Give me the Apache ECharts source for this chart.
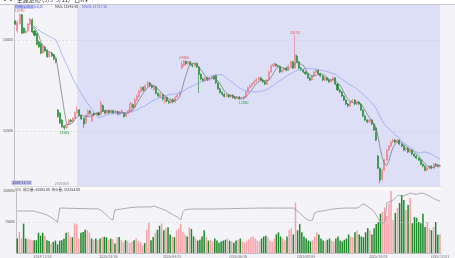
<!DOCTYPE html>
<html><head><meta charset="utf-8">
<script src="https://cdn.jsdelivr.net/npm/echarts@6/dist/echarts.min.js"></script>
<style>html,body{margin:0;padding:0;background:#f4f4f8;}#c{width:455px;height:258px;}</style>
</head><body><div id="c"></div>
<script>
const opens = [15520,15250,15450,15700,15330,15200,15250,15430,15560,15250,15180,14950,14900,14650,14800,14720,14540,14640,14600,14480,
13080,12990,12800,12640,12590,12690,12800,12760,12850,13000,13080,12930,12850,12720,12930,13050,12780,12980,12950,13000,
12960,13200,13060,12990,13050,13000,13060,13000,13030,12960,13000,13000,12900,12990,13020,13230,13150,13350,13450,13580,
13700,13620,13740,13820,13760,13640,13720,13540,13440,13500,13300,13420,13320,13280,13360,13300,13430,13520,14230,14300,
14410,14350,14400,14330,14290,14360,14260,14060,13930,13880,13960,13900,13970,14010,14030,13820,13660,13560,13510,13450,
13490,13440,13480,13420,13390,13430,13380,13400,13440,13570,13690,13740,13800,13860,13910,13960,13900,13850,13790,13900,
14120,14290,14340,14290,14280,14120,14180,14230,14170,14290,14400,14230,14560,14400,14230,14180,14120,14070,13960,13900,
14010,14120,14170,14070,14010,13900,13960,13900,13850,13900,13960,13790,13630,13570,13460,13350,13240,13190,13300,13350,
13240,13300,13240,13080,12910,12800,12750,12800,12690,12580,11810,11480,11180,11430,11700,11975,12085,12195,12250,12195,
12250,12140,12085,11975,12030,11920,11975,11865,11810,11755,11700,11590,11535,11425,11480,11535,11480,11590,11562,11535];
const closes = [15440,15495,15687,15190,15200,15250,15440,15580,15220,15130,14880,14810,14640,14820,14700,14540,14650,14560,14480,14400,
12900,12720,12620,12580,12680,12800,12760,12850,13000,13080,12930,12830,12690,12940,13060,12990,12970,12940,12990,12940,
13270,13050,12990,13050,13000,13060,12990,13040,12960,13020,13060,12900,12990,13060,13250,13150,13360,13460,13600,13700,
13620,13740,13830,13760,13700,13720,13540,13460,13520,13380,13420,13330,13280,13360,13300,13420,13490,13560,14340,14420,
14350,14400,14330,14290,14360,14260,14060,13930,13880,13960,13900,13970,14010,13930,13820,13660,13560,13510,13450,13490,
13440,13480,13420,13390,13430,13380,13400,13440,13570,13690,13740,13800,13860,13910,13960,13900,13850,13790,13900,14120,
14290,14340,14290,14280,14120,14180,14230,14170,14290,14400,14230,14590,14400,14230,14180,14120,14070,13960,13900,14010,
14120,14175,14070,14010,13900,13960,13900,13850,13900,13960,13790,13630,13570,13460,13350,13240,13190,13300,13350,13240,
13300,13240,13080,12910,12800,12750,12800,12690,12530,12250,11480,11150,11430,11700,11975,12085,12195,12250,12195,12250,
12140,12085,11975,12030,11920,11975,11865,11810,11755,11700,11590,11535,11425,11480,11535,11480,11590,11562,11535,11560];
const lows = [15410,15200,15420,15160,15170,15170,15230,15410,15190,15100,14850,14780,14610,14620,14670,14510,14520,14530,14440,14360,
12860,12690,12580,12528,12560,12660,12720,12740,12830,12960,12900,12800,12580,12700,12900,12950,12750,12900,12920,12910,
12930,13020,12960,12960,12970,12970,12960,12960,12930,12930,12970,12870,12880,12960,13000,13120,13120,13320,13420,13560,
13580,13600,13710,13720,13660,13600,13500,13420,13400,13330,13250,13290,13240,13250,13260,13270,13400,13480,14200,14260,
14310,14320,14300,14250,14260,14230,13540,13890,13850,13850,13870,13870,13940,13900,13790,13630,13530,13470,13420,13420,
13410,13410,13390,13370,13370,13365,13360,13350,13400,13550,13660,13710,13770,13830,13880,13870,13820,13760,13770,13880,
14100,14260,14260,14250,14090,14090,14150,14140,14150,14270,14200,14200,14370,14200,14150,14090,14040,13930,13870,13880,
13990,14090,14040,13980,13870,13870,13870,13820,13820,13870,13760,13600,13540,13430,13320,13210,13150,13160,13270,13210,
13210,13210,13050,12880,12770,12710,12720,12660,12500,12220,11450,11067,11120,11400,11680,11950,12060,12170,12160,12170,
12110,12050,11940,11940,11890,11890,11830,11780,11720,11670,11560,11500,11390,11390,11450,11450,11450,11530,11500,11500];
const highs = [15550,15550,15742,15720,15350,15280,15470,15610,15600,15280,15200,14990,14930,14850,14840,14740,14680,14670,14620,14500,
13100,13020,12830,12660,12700,12830,12840,12880,13030,13180,13100,12950,12870,12960,13090,13080,13000,13010,13020,13030,
13340,13230,13080,13080,13080,13090,13080,13070,13060,13050,13090,13020,13010,13090,13300,13260,13400,13500,13640,13730,
13730,13790,13870,13850,13790,13760,13740,13560,13560,13520,13450,13450,13350,13390,13400,13460,13520,13600,14420,14451,
14440,14430,14430,14360,14390,14380,14280,14080,13960,13990,13990,14000,14040,14040,14060,13840,13690,13600,13540,13520,
13520,13510,13510,13450,13460,13460,13430,13470,13600,13720,13780,13830,13890,13950,13990,13990,13930,13880,13930,14160,
14320,14370,14370,14320,14300,14210,14260,14260,14320,14430,14420,15137,14600,14420,14260,14200,14150,14090,13990,14040,
14150,14202,14190,14100,14040,13990,13990,13930,13930,13990,13980,13810,13660,13600,13490,13380,13270,13330,13380,13380,
13330,13330,13260,13100,12940,12830,12830,12830,12710,12600,11840,11500,11460,11730,12000,12110,12230,12290,12280,12280,
12270,12170,12110,12060,12060,12000,12000,11890,11840,11780,11730,11620,11560,11510,11560,11560,11620,11620,11590,11590];
const volumes = [35,51,35,71,35,33,33,31,31,31,49,42,49,42,31,29,23,27,30,21,30,31,35,49,51,39,38,72,69,35,49,51,56,55,49,35,32,35,31,35,38,39,38,31,35,33,23,38,39,31,27,31,29,24,27,31,35,29,27,18,24,56,74,31,39,49,56,66,71,
55,60,62,45,40,38,55,60,70,50,45,40,62,58,40,35,30,32,40,55,38,30,32,28,35,30,25,28,30,32,35,
30,28,25,30,32,35,28,25,30,33,38,40,35,30,28,35,40,42,38,30,28,35,45,50,40,35,30,40,55,60,45,122,55,70,50,40,
35,30,28,30,40,50,45,35,30,28,32,35,30,28,35,40,30,28,32,35,45,40,38,50,55,45,40,38,50,60,55,45,60,70,75,
95,100,110,90,120,150,80,97,109,121,140,128,104,116,133,72,87,85,75,72,95,63,75,60,55,63,75,44,45.804].map(v=>v*1000);
const openInterest = [271,271,271,271,271,271,271,271,271,265,262,258,255,250,245,238,230,222,210,200,
290,290,290,289,289,288,288,288,287,287,287,286,286,286,285,285,285,285,285,280,270,258,245,232,220,213,277,280,282,284,
286,288,290,292,294,295,296,297,297,297,297,297,297,297,303,300,295,290,285,280,275,265,258,250,242,235,226,213,265,280,
281,282,283,284,284,284,284,284,284,284,284,284,284,284,284,284,285,285,285,286,286,286,287,287,287,288,288,288,288,289,
289,289,289,290,290,290,290,290,290,290,290,290,290,290,290,290,290,290,290,290,290,280,270,258,245,232,220,213,208,213,
258,265,268,270,272,275,277,280,282,284,286,287,288,289,290,290,290,290,290,290,290,297,310,316,310,300,290,280,265,245,
220,200,194,194,323,329,335,342,355,368,374,370,368,374,380,387,384,380,378,383,387,385,380,375,368,360,352,345,340,333.164].map(v=>v*1000);
const yTicks = [12500, 15000];
const volTicks = [75000, 150000];
const dateTickIdx = [12, 43, 73, 104, 136, 170, 199];
const dateTickLabels = ['2024/12/02','2025/02/05','2025/04/03','2025/06/05','2025/08/04','2025/10/09','2025/12/01'];
const rollIdx = [3, 22, 48, 81, 143, 175];
const rollLabels = ['2024/11/11','2501合约','2505合约','2509合约','2601合约','11/28 2605合约'];
const rollHighlight = [true, false, false, false, false, true];
const extremes = [
  {idx:2, value:15742, text:'15740', pos:'top', color:'#e8505c'},
  {idx:23, value:12528, text:'12505', pos:'bottom', color:'#2a9a3a'},
  {idx:79, value:14451, text:'14460', pos:'top', color:'#e8505c'},
  {idx:107, value:13350, text:'13350', pos:'bottom', color:'#2a9a3a'},
  {idx:131, value:15137, text:'15130', pos:'top', color:'#e8505c'}
];
const shadeFrom = 29, shadeTo = 199;
const maShort = 5, maLong = 20;

const N = closes.length;
const cats = closes.map((_, i) => String(i));
const candleData = closes.map((c, i) => [opens[i], c, lows[i], highs[i]]);
function ma(n){
  return closes.map((_, i) => {
    const s0 = Math.max(0, i - n + 1);
    if (i < 8) return '-';
    let s = 0; for (let k = s0; k <= i; k++) s += closes[k];
    return +(s / (i - s0 + 1)).toFixed(2);
  });
}
const ma1 = ma(maShort), ma2 = ma(maLong);
const volData = volumes.map((v, i) => ({value: v, itemStyle: {color: closes[i] >= opens[i] ? '#f5a3aa' : '#1f8a2b'}}));

const chart = echarts.init(document.getElementById('c'), null, {renderer: 'canvas'});
const F = 'Noto Sans CJK SC';
chart.setOption({
  animation: false,
  backgroundColor: '#f4f4f8',
  textStyle: {fontFamily: F},
  graphic: [
    {type:'rect', shape:{x:0,y:0,width:455,height:4.5}, style:{fill:'#ffffff'}, z:10},
    {type:'line', shape:{x1:0,y1:4.5,x2:455,y2:4.5}, style:{stroke:'#c6c6ce',lineWidth:1}, z:10},
    {type:'text', left:2, top:-3, style:{text:'▪▪  主連走勢 (9/9  9/11)   日K ▾', font:'6px '+F, fill:'#333'}, z:11},
    {type:'rect', shape:{x:14.5,y:5,width:19,height:4}, style:{fill:'#c9cdf2'}, z:9},
    {type:'text', left:15, top:5, style:{text:'均线(5,20,0,0,0,0)', font:'3.5px '+F, fill:'#3a4ad0'}, z:11},
    {type:'text', left:55, top:5, style:{text:'MA5: ' + ma1[N-1].toFixed(2), font:'3.5px '+F, fill:'#444'}, z:11},
    {type:'text', left:82, top:5, style:{text:'MA20: ' + ma2[N-1].toFixed(2), font:'3.5px '+F, fill:'#5a6ae0'}, z:11},
    {type:'rect', shape:{x:14,y:186.5,width:427,height:3.5}, style:{fill:'#fbfbfd'}, z:1},
    {type:'text', left:15, top:188, style:{text:'VOL  成交量: ' + volumes[N-1].toFixed(2) + '  持仓量: ' + openInterest[N-1].toFixed(2), font:'3.5px '+F, fill:'#444'}, z:11}
  ],
  grid: [
    {left:14, right:14, top:5, height:181, show:false},
    {left:14, right:14, top:191, height:62, show:false}
  ],
  xAxis: [
    {type:'category', gridIndex:0, data:cats, boundaryGap:true,
     axisLine:{show:true, lineStyle:{color:'#c0c0c8'}}, axisTick:{show:false}, splitLine:{show:false},
     axisLabel:{inside:true, margin:1, fontSize:3.5, color:'#8a8a98',
       interval:(i)=>rollIdx.includes(i),
       formatter:(v)=>{const k=rollIdx.indexOf(+v); if (k<0) return ''; return rollHighlight[k] ? '{hl|'+rollLabels[k]+'}' : rollLabels[k];},
       rich:{hl:{backgroundColor:'#bfc5f0', color:'#3a3a60', fontSize:3.5, padding:[0.5,1]}}}},
    {type:'category', gridIndex:1, data:cats, boundaryGap:true,
     axisLine:{show:true, lineStyle:{color:'#c0c0c8'}}, axisTick:{show:false}, splitLine:{show:false},
     axisLabel:{margin:1.5, fontSize:3.5, color:'#777',
       interval:(i)=>dateTickIdx.includes(i),
       formatter:(v)=>{const k=dateTickIdx.indexOf(+v); return k>=0 ? dateTickLabels[k] : '';}}}
  ],
  yAxis: [
    {type:'value', gridIndex:0, min:10989, max:15962,
     axisLine:{show:true, lineStyle:{color:'#c0c0c8'}}, axisTick:{show:false}, splitLine:{show:false},
     axisLabel:{customValues:yTicks, fontSize:3.5, color:'#555', margin:1.5, formatter:(v)=>String(v)}},
    {type:'value', gridIndex:1, min:0, max:150000,
     axisLine:{show:true, lineStyle:{color:'#c0c0c8'}}, axisTick:{show:false}, splitLine:{show:false},
     axisLabel:{customValues:volTicks, fontSize:3.5, color:'#555', margin:1.5, formatter:(v)=>String(v)}},
    {type:'value', gridIndex:1, min:0, max:400000, show:false}
  ],
  series: [
    {type:'line', xAxisIndex:0, yAxisIndex:0, data:[], z:1,
     markArea:{silent:true, itemStyle:{color:'#dcdff6'}, data:[[{xAxis:String(shadeFrom)},{xAxis:String(shadeTo)}]]}},
    {type:'candlestick', xAxisIndex:0, yAxisIndex:0, data:candleData, barWidth:'72%', z:3,
     itemStyle:{color:'#f6a9b1', color0:'#1b8a2a', borderColor:'#ec6f7c', borderColor0:'#1b8a2a', borderWidth:0.6},
     markLine:{silent:true, symbol:'none', label:{show:false}, lineStyle:{color:'#cfd0da', type:[2,2], width:0.6},
       data: yTicks.map(v=>({yAxis:v}))},
     markPoint:{silent:true, symbol:'circle', symbolSize:0,
       data: extremes.map(e=>({coord:[String(e.idx), e.value], value:e.text,
         label:{show:true, position:e.pos, distance:1, formatter:e.text, fontSize:3.5, color:e.color}}))}},
    {type:'line', xAxisIndex:0, yAxisIndex:0, data:ma1, symbol:'none', lineStyle:{color:'#6e6e76', width:0.7}, z:4},
    {type:'line', xAxisIndex:0, yAxisIndex:0, data:ma2, symbol:'none', lineStyle:{color:'#8d9df2', width:0.7}, z:4},
    {type:'bar', xAxisIndex:1, yAxisIndex:1, data:volData, barWidth:'72%', z:2,
     markLine:{silent:true, symbol:'none', label:{show:false}, lineStyle:{color:'#d4d4dc', type:[2,2], width:0.6},
       data: [{yAxis:volTicks[0]}]}},
    {type:'line', xAxisIndex:1, yAxisIndex:2, data:openInterest, symbol:'none', lineStyle:{color:'#8a8a92', width:0.7}, z:4}
  ]
});
</script></body></html>
